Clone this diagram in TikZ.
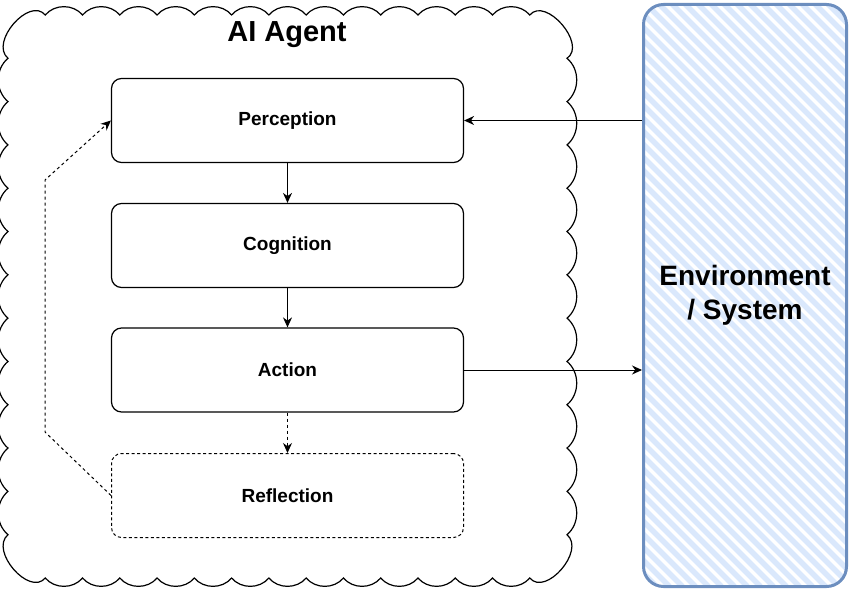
\documentclass[tikz,border=0pt]{standalone}
\usepackage{fontspec}
\setmainfont{Liberation Sans}
\usetikzlibrary{arrows.meta}
\definecolor{envline}{HTML}{6C8EBF}
\definecolor{envfill}{HTML}{DAE8FC}
\tikzset{
  cloudline/.style={line width=1.2pt, draw=black},
  heading/.style={font=\fontsize{29}{32}\selectfont\bfseries},
  stage/.style={draw=black, line width=1.2pt, rounded corners=10pt, minimum width=352pt, minimum height=84pt, font=\fontsize{19}{21}\selectfont\bfseries},
  stagedash/.style={stage, line width=1pt, dash pattern=on 3pt off 2.5pt},
  flow/.style={line width=1pt, -{Stealth[length=10pt,width=9pt]}},
  flowdash/.style={flow, dash pattern=on 3pt off 3pt},
  stripe/.style={draw=envfill, line width=5.5pt},
  envbox/.style={draw=envline, line width=3pt, rounded corners=20pt, minimum width=203pt, minimum height=582pt, align=center, font=\fontsize{28}{34}\selectfont\bfseries,
    path picture={\foreach \c in {0,13,...,810} \draw[stripe] ([xshift=\c pt]path picture bounding box.south west) -- ++(-620pt,620pt);}}
}
\begin{document}
\begin{tikzpicture}[x=1pt, y=1pt]
\useasboundingbox (0,0) rectangle (850,592);
% scalloped agent frame
\draw[cloudline] (45.27,577)
  \foreach \k in {2,...,14} { to[out=50,in=130] ({8+37.27*\k},577) }
  to[out=50,in=34,looseness=1.1] (567,533.7)
  \foreach \k in {11,...,1} { to[out=-40,in=40] (567,{14+43.31*\k}) }
  to[out=-40,in=-50,looseness=1.1] (529.78,14)
  \foreach \k in {13,...,1} { to[out=230,in=310] ({8+37.27*\k},14) }
  to[out=230,in=220,looseness=1.1] (8,57.3)
  \foreach \k in {2,...,12} { to[out=140,in=220] (8,{14+43.31*\k}) }
  to[out=140,in=130,looseness=1.1] (45.27,577) -- cycle;
\node[heading] (agent) at (287,557) {AI Agent};
% stages
\node[stage] (perc) at (287.5,471.5) {Perception};
\node[stage] (cogn) at (287.5,346.5) {Cognition};
\node[stage] (act) at (287.5,222) {Action};
\node[stagedash] (refl) at (287.5,96.5) {Reflection};
% environment
\node[envbox] (env) at (745,296.5) {Environment\\/ System};
% connectors
\coordinate (fbLow) at (45,160);
\coordinate (fbHigh) at (45,412);
\draw[flow] (perc.south) -- (cogn.north);
\draw[flow] (cogn.south) -- (act.north);
\draw[flowdash] (act.south) -- (refl.north);
\draw[flowdash] (refl.west) -- (fbLow) -- (fbHigh) -- (perc.west);
\draw[flow] (perc.east -| env.west) -- (perc.east);
\draw[flow] (act.east) -- (act.east -| env.west);
\end{tikzpicture}
\end{document}
